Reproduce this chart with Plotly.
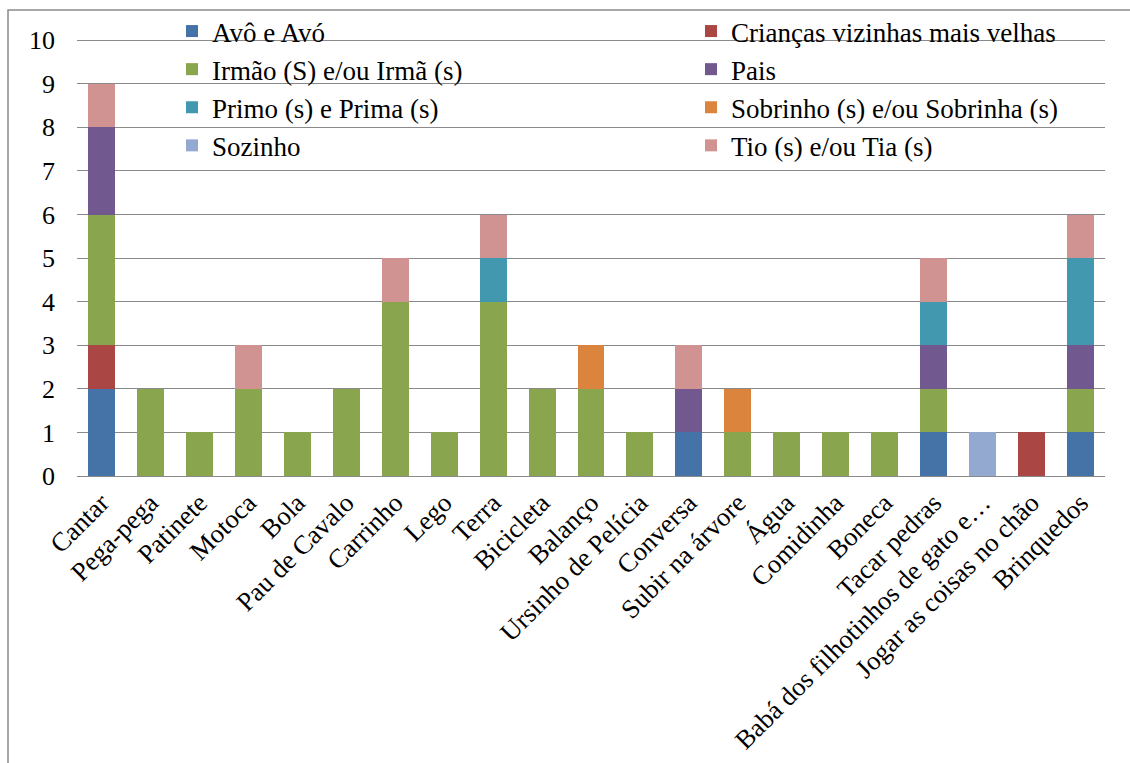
import plotly.graph_objects as go

categories = ["Cantar", "Pega-pega", "Patinete", "Motoca", "Bola", "Pau de Cavalo",
              "Carrinho", "Lego", "Terra", "Bicicleta", "Balanço", "Ursinho de Pelícia",
              "Conversa", "Subir na árvore", "Água", "Comidinha", "Boneca", "Tacar pedras",
              "Babá dos filhotinhos de gato e…", "Jogar as coisas no chão", "Brinquedos"]

avos      = [2, 0, 0, 0, 0, 0, 0, 0, 0, 0, 0, 0, 1, 0, 0, 0, 0, 1, 0, 0, 1]
criancas  = [1, 0, 0, 0, 0, 0, 0, 0, 0, 0, 0, 0, 0, 0, 0, 0, 0, 0, 0, 1, 0]
irmaos    = [3, 2, 1, 2, 1, 2, 4, 1, 4, 2, 2, 1, 0, 1, 1, 1, 1, 1, 0, 0, 1]
pais      = [2, 0, 0, 0, 0, 0, 0, 0, 0, 0, 0, 0, 1, 0, 0, 0, 0, 1, 0, 0, 1]
primos    = [0, 0, 0, 0, 0, 0, 0, 0, 1, 0, 0, 0, 0, 0, 0, 0, 0, 1, 0, 0, 2]
sobrinhos = [0, 0, 0, 0, 0, 0, 0, 0, 0, 0, 1, 0, 0, 1, 0, 0, 0, 0, 0, 0, 0]
sozinho   = [0, 0, 0, 0, 0, 0, 0, 0, 0, 0, 0, 0, 0, 0, 0, 0, 0, 0, 1, 0, 0]
tios      = [1, 0, 0, 1, 0, 0, 1, 0, 1, 0, 0, 0, 1, 0, 0, 0, 0, 1, 0, 0, 1]

# (name, values, colour, legend column)
series = [
    ("Avô e Avó", avos, "#4572A7", "legend"),
    ("Crianças vizinhas mais velhas", criancas, "#AA4643", "legend2"),
    ("Irmão (S) e/ou Irmã (s)", irmaos, "#89A54E", "legend"),
    ("Pais", pais, "#71588F", "legend2"),
    ("Primo (s) e Prima (s)", primos, "#4198AF", "legend"),
    ("Sobrinho (s) e/ou Sobrinha (s)", sobrinhos, "#DB843D", "legend2"),
    ("Sozinho", sozinho, "#93A9CF", "legend"),
    ("Tio (s) e/ou Tia (s)", tios, "#D19392", "legend2"),
]

SERIF = "Liberation Serif"

fig = go.Figure()
for name, vals, color, leg in series:
    fig.add_trace(go.Bar(x=categories, y=vals, name=name, legend=leg,
                         marker=dict(color=color, line=dict(width=0))))

W, H = 1130, 763
ml, mr, mt, mb = 77, 25, 38, 287
pw, ph = W - ml - mr, H - mt - mb

leg_common = dict(orientation="v", xanchor="left", yanchor="top",
                  y=1 + (mt - 7) / ph,
                  font=dict(family=SERIF, size=27, color="black"),
                  bgcolor="rgba(0,0,0,0)", traceorder="normal", itemclick=False)

fig.update_layout(
    width=W, height=H,
    margin=dict(l=ml, r=mr, t=mt, b=mb, pad=0, autoexpand=False),
    barmode="stack", bargap=0.45,
    paper_bgcolor="white", plot_bgcolor="white",
    font=dict(family=SERIF, size=26, color="black"),
    showlegend=True,
    legend=dict(x=(172 - ml) / pw, **leg_common),
    legend2=dict(x=(691 - ml) / pw, **leg_common),
    xaxis=dict(tickangle=-45, showgrid=False, showline=False, ticks="", automargin=False,
               tickfont=dict(family=SERIF, size=26.5, color="black"),
               ticklabelstandoff=5),
    yaxis=dict(range=[0, 10.05], tickvals=list(range(0, 11)), showgrid=True,
               gridcolor="#8a8a8a", gridwidth=1.4,
               zeroline=True, zerolinecolor="#8a8a8a", zerolinewidth=1.4, automargin=False,
               showline=False, ticks="", tickfont=dict(family=SERIF, size=26, color="black"),
               ticklabelstandoff=21),
    shapes=[dict(type="rect", xref="paper", yref="paper",
                 x0=(8 - ml) / pw, x1=(W + 60 - ml) / pw,
                 y0=-(H + 60 - mt - ph) / ph, y1=1 + (mt - 10) / ph,
                 line=dict(color="#8a8a8a", width=1.5), layer="below")],
)

fig.write_html("out.html")
